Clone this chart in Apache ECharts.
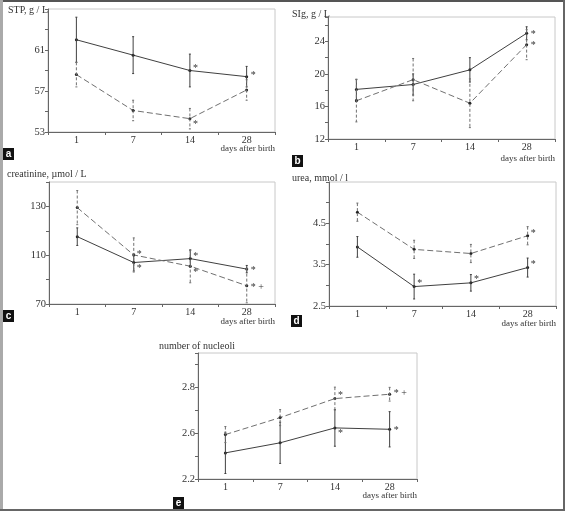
<!DOCTYPE html>
<html><head><meta charset="utf-8">
<script src="https://cdn.jsdelivr.net/npm/echarts@6/dist/echarts.min.js"></script>
<style>html,body{margin:0;padding:0;background:#fff}#c{width:565px;height:511px}</style>
</head><body><div id="c"></div>
<script>
// ---------- DATA ----------
const days = ['1', '7', '14', '28'];

// panel a: STP, g/L
const aSolid = [62.0, 60.5, 59.0, 58.4];
const aSolidErr = [2.2, 1.8, 1.6, 1.0];
const aDashed = [58.6, 55.1, 54.3, 57.1];
const aDashedErr = [1.2, 1.0, 1.0, 1.0];
const aSolidMarks = ['', '', '*', '*'];
const aDashedMarks = ['', '', '*', ''];
const aTickValues = [53, 57, 61];
const aTickLabels = ['53', '57', '61'];

// panel b: SIg, g/L
const bSolid = [18.1, 18.7, 20.5, 25.0];
const bSolidErr = [1.25, 1.3, 1.5, 0.8];
const bDashed = [16.7, 19.3, 16.4, 23.6];
const bDashedErr = [2.6, 2.6, 3.0, 1.85];
const bSolidMarks = ['', '', '', '*'];
const bDashedMarks = ['', '', '', '*'];
const bTickValues = [12, 16, 20, 24];
const bTickLabels = ['12', '16', '20', '24'];

// panel c: creatinine (values on the printed scale, whose lowest tick is printed as "70")
const cSolid = [117.6, 107.0, 108.6, 104.3];
const cSolidErr = [3.6, 3.5, 3.4, 1.5];
const cDashed = [129.5, 110.1, 105.5, 97.5];
const cDashedErr = [7.0, 7.0, 6.8, 7.0];
const cSolidMarks = ['', '*', '*', '*'];
const cDashedMarks = ['', '*', '*', '* +'];
const cTickValues = [90, 110, 130];
const cTickLabels = ['70', '110', '130'];

// panel d: urea, mmol/l
const dSolid = [3.93, 2.97, 3.06, 3.43];
const dSolidErr = [0.25, 0.3, 0.2, 0.23];
const dDashed = [4.77, 3.87, 3.77, 4.20];
const dDashedErr = [0.22, 0.22, 0.22, 0.22];
const dSolidMarks = ['', '*', '*', '*'];
const dDashedMarks = ['', '', '', '*'];
const dTickValues = [2.5, 3.5, 4.5];
const dTickLabels = ['2.5', '3.5', '4.5'];

// panel e: number of nucleoli (lowest tick printed as "2.2")
const eSolid = [2.514, 2.558, 2.623, 2.617];
const eSolidErr = [0.09, 0.09, 0.08, 0.077];
const eDashed = [2.594, 2.668, 2.751, 2.770];
const eDashedErr = [0.035, 0.035, 0.05, 0.03];
const eSolidMarks = ['', '', '*', '*'];
const eDashedMarks = ['', '', '*', '* +'];
const eTickValues = [2.4, 2.6, 2.8];
const eTickLabels = ['2.2', '2.6', '2.8'];

// ---------- STYLE / LAYOUT ----------
const SERIF = '"Liberation Serif", "DejaVu Serif", serif';
const SOLID_C = '#404040', DASH_C = '#707070';

const panels = [
  { key: 'a', grid: {left: 48, top: 9, width: 227, height: 123}, min: 53, max: 65, interval: 2,
    solid: aSolid, solidErr: aSolidErr, dashed: aDashed, dashedErr: aDashedErr,
    solidMarks: aSolidMarks, dashedMarks: aDashedMarks, tv: aTickValues, tl: aTickLabels,
    title: 'STP, g / L', titlePos: [8, 11], daysY: 149, letterPos: [3, 148],
    sOff: [[0,0],[0,0],[3,-2],[4,-1]], dOff: [[0,0],[0,0],[3,6],[0,0]] },
  { key: 'b', grid: {left: 328, top: 17, width: 227, height: 122}, min: 12, max: 27, interval: 2,
    solid: bSolid, solidErr: bSolidErr, dashed: bDashed, dashedErr: bDashedErr,
    solidMarks: bSolidMarks, dashedMarks: bDashedMarks, tv: bTickValues, tl: bTickLabels,
    title: 'SIg, g / L', titlePos: [292, 15], daysY: 159, letterPos: [292, 155],
    sOff: [[0,0],[0,0],[0,0],[4,1]], dOff: [[0,0],[0,0],[0,0],[4,1]] },
  { key: 'c', grid: {left: 49, top: 182, width: 226, height: 122}, min: 90, max: 140, interval: 10,
    solid: cSolid, solidErr: cSolidErr, dashed: cDashed, dashedErr: cDashedErr,
    solidMarks: cSolidMarks, dashedMarks: cDashedMarks, tv: cTickValues, tl: cTickLabels,
    title: 'creatinine, \u00b5mol / L', titlePos: [7, 175], daysY: 322, letterPos: [3, 310],
    sOff: [[0,0],[3,6],[3,-2],[4,1]], dOff: [[0,0],[3,-1],[3,6],[4,2]] },
  { key: 'd', grid: {left: 329, top: 182, width: 227, height: 124}, min: 2.5, max: 5.5, interval: 0.5,
    solid: dSolid, solidErr: dSolidErr, dashed: dDashed, dashedErr: dDashedErr,
    solidMarks: dSolidMarks, dashedMarks: dDashedMarks, tv: dTickValues, tl: dTickLabels,
    title: 'urea, mmol / l', titlePos: [292, 179], daysY: 324, letterPos: [291, 315],
    sOff: [[0,0],[3,-3],[3,-3],[3,-3]], dOff: [[0,0],[0,0],[0,0],[3,-2]] },
  { key: 'e', grid: {left: 198, top: 353, width: 219, height: 126}, min: 2.4, max: 2.95, interval: 0.1,
    solid: eSolid, solidErr: eSolidErr, dashed: eDashed, dashedErr: eDashedErr,
    solidMarks: eSolidMarks, dashedMarks: eDashedMarks, tv: eTickValues, tl: eTickLabels,
    title: 'number of nucleoli', titlePos: [159, 347], daysY: 496, letterPos: [173, 497],
    sOff: [[0,0],[0,0],[3,5],[4,1]], dOff: [[0,0],[0,0],[3,-3],[4,-1]] }
];

function errSeries(gi, vals, errs, dashed) {
  const col = dashed ? DASH_C : SOLID_C;
  return {
    type: 'custom', xAxisIndex: gi, yAxisIndex: gi, silent: true, z: 3,
    data: vals.map((v, i) => [i, v, errs[i]]),
    renderItem: function (params, api) {
      const x = api.value(0), v = api.value(1), e = api.value(2);
      const t = api.coord([x, v + e]), b = api.coord([x, v - e]);
      const st = {stroke: col, lineWidth: 1, lineDash: dashed ? [3, 2] : null};
      return {type: 'group', children: [
        {type: 'line', shape: {x1: t[0], y1: t[1], x2: b[0], y2: b[1]}, style: st},
        {type: 'line', shape: {x1: t[0] - 1, y1: t[1], x2: t[0] + 1, y2: t[1]}, style: {stroke: col, lineWidth: 1}},
        {type: 'line', shape: {x1: b[0] - 1, y1: b[1], x2: b[0] + 1, y2: b[1]}, style: {stroke: col, lineWidth: 1}}
      ]};
    }
  };
}

function markSeries(gi, vals, marks, offs) {
  return {
    type: 'custom', xAxisIndex: gi, yAxisIndex: gi, silent: true, z: 4,
    data: vals.map((v, i) => [i, v]),
    renderItem: function (params, api) {
      const m = marks[params.dataIndex];
      if (!m) return null;
      const p = api.coord([api.value(0), api.value(1)]);
      const o = offs[params.dataIndex];
      return {type: 'text', x: p[0] + o[0], y: p[1] + o[1],
        style: {text: m, font: '10px ' + SERIF, fill: '#333', align: 'left', verticalAlign: 'middle'}};
    }
  };
}

function lineSeries(gi, vals, dashed) {
  return {
    type: 'line', xAxisIndex: gi, yAxisIndex: gi, data: vals, z: 2,
    symbol: 'circle', symbolSize: 3, animation: false,
    itemStyle: {color: '#222'},
    lineStyle: {color: dashed ? DASH_C : SOLID_C, width: 1, type: dashed ? [6, 3] : 'solid'}
  };
}

const grids = [], xAxes = [], yAxes = [], series = [], graphics = [];
panels.forEach((p, gi) => {
  grids.push(Object.assign({show: true, borderColor: '#c8c8c8', borderWidth: 1, backgroundColor: 'transparent'}, p.grid));
  xAxes.push({
    type: 'category', gridIndex: gi, data: days, boundaryGap: true,
    axisLine: {lineStyle: {color: '#666', width: 1}},
    axisTick: {show: true, length: 3, lineStyle: {color: '#666'}},
    axisLabel: {fontFamily: SERIF, fontSize: 10, color: '#333', margin: 3},
    splitLine: {show: false}
  });
  yAxes.push({
    type: 'value', gridIndex: gi, min: p.min, max: p.max, interval: p.interval,
    axisLine: {show: true, lineStyle: {color: '#666', width: 1}},
    axisTick: {show: true, length: 3, lineStyle: {color: '#666'}},
    splitLine: {show: false},
    axisLabel: {fontFamily: SERIF, fontSize: 10.5, color: '#333', margin: 3,
      formatter: function (v) {
        const i = p.tv.findIndex(t => Math.abs(t - v) < 1e-6);
        return i >= 0 ? p.tl[i] : '';
      }}
  });
  series.push(errSeries(gi, p.solid, p.solidErr, false));
  series.push(errSeries(gi, p.dashed, p.dashedErr, true));
  series.push(lineSeries(gi, p.solid, false));
  series.push(lineSeries(gi, p.dashed, true));
  series.push(markSeries(gi, p.solid, p.solidMarks, p.sOff));
  series.push(markSeries(gi, p.dashed, p.dashedMarks, p.dOff));

  graphics.push({type: 'text', left: p.titlePos[0], top: p.titlePos[1] - 6,
    style: {text: p.title, font: '10px ' + SERIF, fill: '#333'}});
  graphics.push({type: 'text', x: p.grid.left + p.grid.width, y: p.daysY,
    style: {text: 'days after birth', font: '9px ' + SERIF, fill: '#333', align: 'right', verticalAlign: 'middle'}});
  graphics.push({type: 'group', x: p.letterPos[0], y: p.letterPos[1], children: [
    {type: 'rect', shape: {x: 0, y: 0, width: 11, height: 12}, style: {fill: '#111'}},
    {type: 'text', x: 5.5, y: 6.5, style: {text: p.key, font: 'bold 10px "Liberation Sans", sans-serif', fill: '#fff', align: 'center', verticalAlign: 'middle'}}
  ]});
});

// outer frame
graphics.push({type: 'rect', shape: {x: 0, y: 0, width: 565, height: 2}, style: {fill: '#555'}});
graphics.push({type: 'rect', shape: {x: 0, y: 0, width: 3, height: 511}, style: {fill: '#aaa'}});
graphics.push({type: 'rect', shape: {x: 563, y: 0, width: 2, height: 511}, style: {fill: '#666'}});
graphics.push({type: 'rect', shape: {x: 0, y: 509, width: 565, height: 2}, style: {fill: '#666'}});

const chart = echarts.init(document.getElementById('c'), null, {renderer: 'canvas'});
chart.setOption({
  animation: false,
  backgroundColor: '#fff',
  grid: grids, xAxis: xAxes, yAxis: yAxes, series: series, graphic: graphics
});
</script></body></html>
